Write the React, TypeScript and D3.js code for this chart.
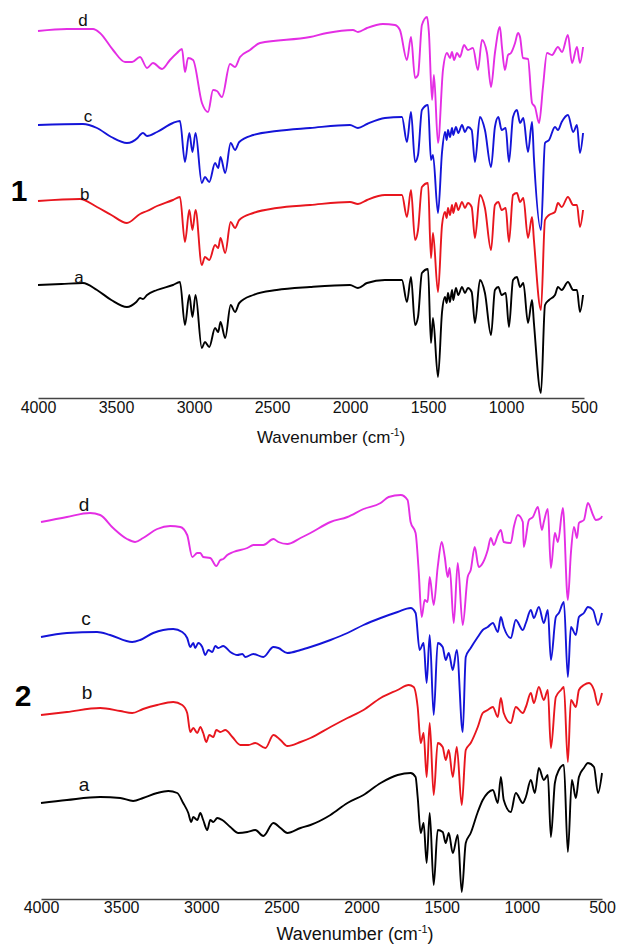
import React, { useEffect, useRef } from "react";
import * as d3 from "d3";

const ticks = [4000, 3500, 3000, 2500, 2000, 1500, 1000, 500];
const sampleNames = ["a", "b", "c", "d"];
const sampleColors = ["#000000", "#e8161e", "#1414d8", "#e42ee4"];

// panel 1 spectra: [wavenumber, transmittance (a.u., stacked)]
const p1a = [[4000,28.25],[3850,28.5],[3712,28.75],[3622,27],[3530,24.5],[3430,22.75],[3370,24],[3346,25],[3327,24.75],[3301,25.75],[3237,27],[3135,28.25],[3090,29],[3058,18.25],[3030,25.75],[3010,20.25],[2990,25.75],[2950,12.5],[2930,14],[2902,12.75],[2865,17.5],[2845,16.5],[2830,19],[2800,15],[2765,23.25],[2737,21.5],[2710,23.75],[2620,25.75],[2470,27],[2256,27.75],[2000,28.25],[1949,27.5],[1891,28.75],[1776,29.5],[1667,29.5],[1635,24],[1609,30.25],[1583,18.25],[1564,20.25],[1539,31.25],[1500,32.25],[1481,13.75],[1468,20],[1436,5.25],[1410,21.5],[1391,25.25],[1380,23.75],[1372,26.25],[1359,24],[1346,27],[1338,24.5],[1321,27.5],[1306,25.75],[1282,27.75],[1263,26.25],[1244,27.5],[1220,26.5],[1199,18.75],[1167,29.5],[1135,26.25],[1096,15.75],[1071,27],[1049,27.75],[1028,25.75],[1002,26.25],[981,17.75],[955,29.5],[930,30.25],[910,27.75],[889,28.75],[859,18.75],[833,24.5],[821,18.75],[776,1.25],[750,23.25],[724,24.5],[686,25.75],[667,27.75],[643,27],[603,29],[569,27],[545,27],[526,21.5],[506,25.75]];
const p1b = [[4000,49.25],[3731,49.75],[3622,47.75],[3530,45.75],[3430,43.75],[3346,46],[3301,46.75],[3237,48],[3135,49.5],[3090,50.25],[3058,39],[3030,47],[3010,42],[2990,47],[2950,33.25],[2930,35.25],[2902,34.5],[2865,38.25],[2845,37.5],[2830,40],[2800,36.25],[2765,44],[2737,42.5],[2710,44.5],[2620,46.25],[2470,47.5],[2256,48.25],[2000,49],[1949,48.5],[1891,49.5],[1776,50.75],[1667,50.75],[1635,45.25],[1609,52],[1583,39.5],[1564,42],[1539,52.75],[1500,53.75],[1481,35],[1468,41.25],[1436,26.5],[1410,43.25],[1391,46.5],[1380,45],[1372,47.5],[1359,45.75],[1346,48.25],[1338,46.25],[1321,48.75],[1306,47],[1282,49],[1263,47.5],[1244,48.75],[1220,47.75],[1199,40],[1167,50.75],[1135,47.5],[1096,37],[1071,48.25],[1049,49],[1028,47],[1002,47.5],[981,39],[955,50.75],[930,51.25],[910,49],[889,50],[859,40],[833,45.25],[821,39.5],[776,22],[750,44.5],[724,45.75],[686,46.5],[667,48.75],[643,47.75],[603,50.25],[569,48.25],[545,48.25],[526,42.75],[506,47]];
const p1c = [[4000,68.25],[3712,68.5],[3622,67.5],[3530,65.25],[3430,63.75],[3362,65],[3346,65.75],[3327,66.25],[3301,65.5],[3237,66.5],[3135,68.75],[3090,69.25],[3058,59],[3030,66.25],[3010,61.5],[2990,66.25],[2950,53.75],[2930,55.25],[2902,54],[2865,58.75],[2845,57.5],[2830,60.25],[2800,56.25],[2765,63.75],[2737,62],[2710,64],[2620,65.75],[2470,66.75],[2256,67.5],[2000,68.25],[1949,67.5],[1891,68.5],[1776,70],[1667,70.25],[1635,64],[1609,71.5],[1583,59],[1564,60.75],[1539,72],[1500,73.25],[1481,59.5],[1468,60.75],[1436,46.25],[1410,61.5],[1391,66.5],[1380,64.5],[1372,67],[1359,65.25],[1346,67.5],[1338,65.75],[1321,67.75],[1306,66.25],[1282,68.25],[1263,66.5],[1244,67.75],[1220,67],[1199,59],[1167,70.25],[1135,67],[1096,57.75],[1071,67.75],[1049,70.25],[1028,67],[1002,67.5],[981,59],[955,70.25],[930,72],[910,68.75],[889,70],[859,61.5],[833,69],[821,60],[776,42],[750,63.75],[724,64.5],[686,67.75],[667,67],[643,69],[603,70.75],[569,66.5],[545,68.25],[526,61.25],[506,66.25]];
const p1d = [[4000,91.75],[3814,92.25],[3647,92.25],[3603,91.25],[3519,87],[3442,84],[3397,84],[3346,85.25],[3301,82.5],[3263,83.75],[3205,82.25],[3154,84.5],[3109,86.25],[3077,87.25],[3058,81.5],[3038,85],[3006,84.5],[2949,73.75],[2910,71.5],[2878,77],[2853,76.75],[2821,75.25],[2769,83.5],[2737,82.75],[2705,85.25],[2641,87],[2577,88.75],[2256,90.25],[2147,91.25],[1981,92],[1949,91.5],[1891,92.5],[1789,93.5],[1712,93.25],[1680,92],[1635,84.5],[1609,90.25],[1583,80],[1564,80.75],[1539,93.25],[1506,95.25],[1494,91.25],[1474,74.5],[1462,80.75],[1436,63.75],[1404,82],[1378,86.25],[1359,85],[1346,86.5],[1333,84.5],[1314,86.25],[1295,85.25],[1269,88.25],[1244,87],[1212,87.5],[1180,82],[1154,89.5],[1122,86.25],[1096,77.75],[1071,86.25],[1039,92.75],[1026,87.75],[1007,82],[987,85.75],[968,86.25],[942,88.75],[923,91.25],[910,90.25],[891,85],[859,84.75],[833,73.75],[814,72.75],[788,68.75],[763,77.75],[737,86.25],[705,85.75],[667,87.75],[641,86.5],[603,90.75],[577,83.75],[545,87.75],[526,83.75],[506,87.75]];

// panel 2 spectra
const p2a = [[4000,24],[3838,24.75],[3631,25.5],[3506,25.25],[3425,24.5],[3363,25.25],[3275,26.5],[3206,27],[3150,26.5],[3113,24],[3081,21.5],[3063,19.25],[3050,20.5],[3025,19.75],[3006,21.5],[2988,19.75],[2963,17.25],[2944,19.75],[2925,19.25],[2900,20.25],[2869,19.75],[2819,18],[2769,16.5],[2713,16.75],[2663,17.25],[2613,15.75],[2550,19],[2506,17.75],[2463,16.5],[2381,17.75],[2319,18.5],[2194,21],[2088,24],[1988,26],[1881,29],[1775,31],[1694,31.5],[1663,30.5],[1650,25.5],[1631,16.5],[1613,19],[1594,9],[1575,21.5],[1550,3.5],[1525,17.25],[1494,16.75],[1475,14],[1456,16.5],[1431,11.5],[1400,16],[1375,1.75],[1350,14],[1319,16.5],[1275,21.75],[1244,24.75],[1213,26.5],[1181,27.25],[1150,24],[1131,30.5],[1113,24.75],[1069,21.75],[1038,26.5],[994,24],[975,25.5],[944,29.75],[919,26.5],[894,32.75],[863,29.75],[838,31],[819,15.5],[794,29],[769,32.25],[738,33.5],[713,11.75],[688,29.75],[663,25.25],[644,30.5],[613,32.75],[588,34],[550,33],[525,26.5],[500,31.5]];
const p2b = [[4000,46],[3838,46.75],[3631,47.75],[3506,47],[3431,46.5],[3363,47.5],[3275,48.5],[3175,49.25],[3119,48.5],[3088,46.5],[3069,41.75],[3050,42.75],[3025,41.5],[3006,43],[2988,41.5],[2969,39.25],[2950,41],[2925,40.5],[2906,42.25],[2881,41.75],[2850,42.25],[2806,40.5],[2756,38.5],[2706,38.5],[2663,39],[2600,37.75],[2550,41],[2506,39.75],[2463,38.25],[2381,39.25],[2319,40.25],[2194,43],[2088,45.25],[1988,47.25],[1881,50.25],[1775,52.25],[1706,53.5],[1675,53],[1650,48],[1631,39],[1613,41.5],[1594,30.5],[1575,44],[1550,26],[1525,39],[1494,38],[1475,34.75],[1456,37.25],[1431,30.5],[1406,38],[1375,23.5],[1350,37.25],[1319,39],[1275,43],[1244,46.5],[1213,47.25],[1181,48],[1150,45.5],[1131,50.25],[1113,46.5],[1069,44],[1038,48],[994,46.5],[975,48],[944,51.5],[925,49],[894,53],[863,49.75],[838,52.25],[819,37.75],[788,50.5],[756,52.25],[738,53],[713,34.25],[694,49.75],[663,48],[644,52.25],[613,53.5],[581,54],[550,52.25],[525,48.5],[500,51.5]];
const p2c = [[4000,65.5],[3838,66.5],[3650,66.75],[3569,66],[3431,64.25],[3381,64.75],[3300,66.5],[3175,67.5],[3119,66.75],[3088,65.25],[3069,63],[3050,64],[3038,62.75],[3019,64],[2994,63],[2975,61],[2956,62.25],[2931,61.75],[2913,63.25],[2894,62.75],[2863,63.25],[2819,61.75],[2775,61],[2744,61.25],[2725,60.5],[2675,61.25],[2613,60.5],[2550,63],[2519,62.75],[2463,61.5],[2381,62.25],[2319,63],[2194,64.75],[2088,66.5],[1988,68.5],[1881,70.25],[1775,71.75],[1694,72.75],[1663,71.5],[1638,62.25],[1613,64],[1594,54],[1575,66],[1550,46],[1525,64],[1494,63],[1475,59.75],[1456,61.5],[1431,57.25],[1406,62.25],[1369,41.75],[1350,60.5],[1319,62.75],[1275,65.5],[1244,67.25],[1213,68],[1181,69],[1150,66.75],[1131,70.5],[1113,68],[1069,65.25],[1038,69.75],[994,67.25],[975,69],[944,72.25],[925,70.25],[894,73],[863,69],[838,72.25],[819,59.75],[788,70.5],[769,71.5],[738,74.25],[713,55.5],[694,68],[663,66],[644,70.5],[613,71.5],[588,73],[556,72.25],[525,68.5],[500,71.5]];
const p2d = [[4000,94.25],[3838,95.5],[3694,96.5],[3631,96],[3550,92.75],[3463,90],[3413,89.25],[3363,90.25],[3275,92.5],[3194,93.25],[3131,93],[3088,91],[3056,85.5],[3025,86.5],[3006,86.5],[2988,85.5],[2944,85.25],[2906,83.25],[2881,84.75],[2863,85],[2838,86],[2800,86.75],[2713,87.75],[2675,88.5],[2613,88.5],[2550,90],[2519,89.25],[2463,88.75],[2381,90.25],[2319,91.5],[2194,94.25],[2088,95.5],[1988,97.5],[1881,99],[1831,100.5],[1756,101],[1713,99.75],[1694,94.25],[1663,91.5],[1644,82.25],[1625,70.5],[1606,74.75],[1588,74.25],[1575,80.5],[1550,73.5],[1525,83],[1500,89.25],[1481,85.5],[1463,80.5],[1450,82.75],[1425,69],[1400,84],[1369,68.5],[1338,80.5],[1319,82.25],[1294,88],[1269,83],[1244,84],[1213,87.25],[1194,90.25],[1175,88.5],[1150,91],[1131,92.25],[1113,89.25],[1069,89],[1050,93],[1025,96],[994,94.25],[988,88],[956,94.75],[931,95.5],[900,98],[875,92.25],[863,94.25],[838,97.5],[819,82.75],[794,91.5],[775,89.25],[744,97.75],[713,74.75],[694,86.5],[675,93],[656,90.25],[644,94],[613,94.75],[588,99],[556,96],[538,94.75],[506,95.25],[500,95.75]];

// where the a-d letters sit, [wavenumber, value]
const p1LabelPos = [[3737, 28.75], [3700, 49.5], [3680, 69], [3712, 93]];
const p2LabelPos = [[3731, 27], [3713, 50], [3719, 68.5], [3731, 97]];

const FONT = "'Liberation Sans', Arial, Helvetica, sans-serif";

export default function App() {
  const ref = useRef<SVGSVGElement>(null);

  useEffect(() => {
    const svg = d3.select(ref.current);
    svg.selectAll("*").remove();

    const panels = [
      { tag: "1", series: [p1a, p1b, p1c, p1d], labels: p1LabelPos, left: 38, right: 584, axisY: 398, pad: 4,
        tagX: 19, tagY: 201, titleX: 331, titleY: 443, titleSize: 17, letterSize: 17 },
      { tag: "2", series: [p2a, p2b, p2c, p2d], labels: p2LabelPos, left: 41, right: 602, axisY: 899, pad: 3,
        tagX: 23, tagY: 706, titleX: 355, titleY: 940, titleSize: 18, letterSize: 19 },
    ];

    panels.forEach(p => {
      const x = d3.scaleLinear().domain([4000, 500]).range([p.left, p.right]);
      const y = d3.scaleLinear().domain([0, 100]).range([p.axisY, p.axisY - 400]);
      const g = svg.append("g");

      const line = d3.line<number[]>()
        .x(d => x(d[0]))
        .y(d => y(d[1]))
        .curve(d3.curveMonotoneX);

      p.series.forEach((s, i) => {
        g.append("path")
          .datum(s)
          .attr("d", line)
          .attr("fill", "none")
          .attr("stroke", sampleColors[i])
          .attr("stroke-width", 1.9)
          .attr("stroke-linejoin", "round");
      });

      g.selectAll(".letter")
        .data(p.labels)
        .join("text")
        .attr("class", "letter")
        .attr("x", d => x(d[0]))
        .attr("y", d => y(d[1]))
        .attr("text-anchor", "middle")
        .attr("font-family", FONT)
        .attr("font-size", p.letterSize)
        .attr("fill", "#111")
        .text((d, i) => sampleNames[i]);

      const axis = d3.axisBottom(x)
        .tickValues(ticks)
        .tickSize(0)
        .tickSizeOuter(0)
        .tickPadding(p.pad)
        .tickFormat(d3.format("d"));

      g.append("g")
        .attr("transform", `translate(0,${p.axisY})`)
        .call(axis)
        .call(a => {
          a.select(".domain").attr("stroke", "#444").attr("stroke-width", 1.6);
          a.selectAll("text").attr("font-size", 16).attr("font-family", FONT).attr("fill", "#111");
        });

      const title = g.append("text")
        .attr("x", p.titleX)
        .attr("y", p.titleY)
        .attr("text-anchor", "middle")
        .attr("font-family", FONT)
        .attr("font-size", p.titleSize)
        .attr("fill", "#111");
      title.append("tspan").text("Wavenumber (cm");
      title.append("tspan").attr("dy", -7).attr("font-size", p.titleSize * 0.6).text("-1");
      title.append("tspan").attr("dy", 7).text(")");

      svg.append("text")
        .attr("x", p.tagX)
        .attr("y", p.tagY)
        .attr("text-anchor", "middle")
        .attr("font-family", FONT)
        .attr("font-weight", "bold")
        .attr("font-size", 30)
        .attr("fill", "#000")
        .text(p.tag);
    });
  }, []);

  return (
    <div style={{ position: "absolute", left: 0, top: 0, width: 618, height: 945, background: "#fff" }}>
      <svg ref={ref} width={618} height={945}></svg>
    </div>
  );
}
